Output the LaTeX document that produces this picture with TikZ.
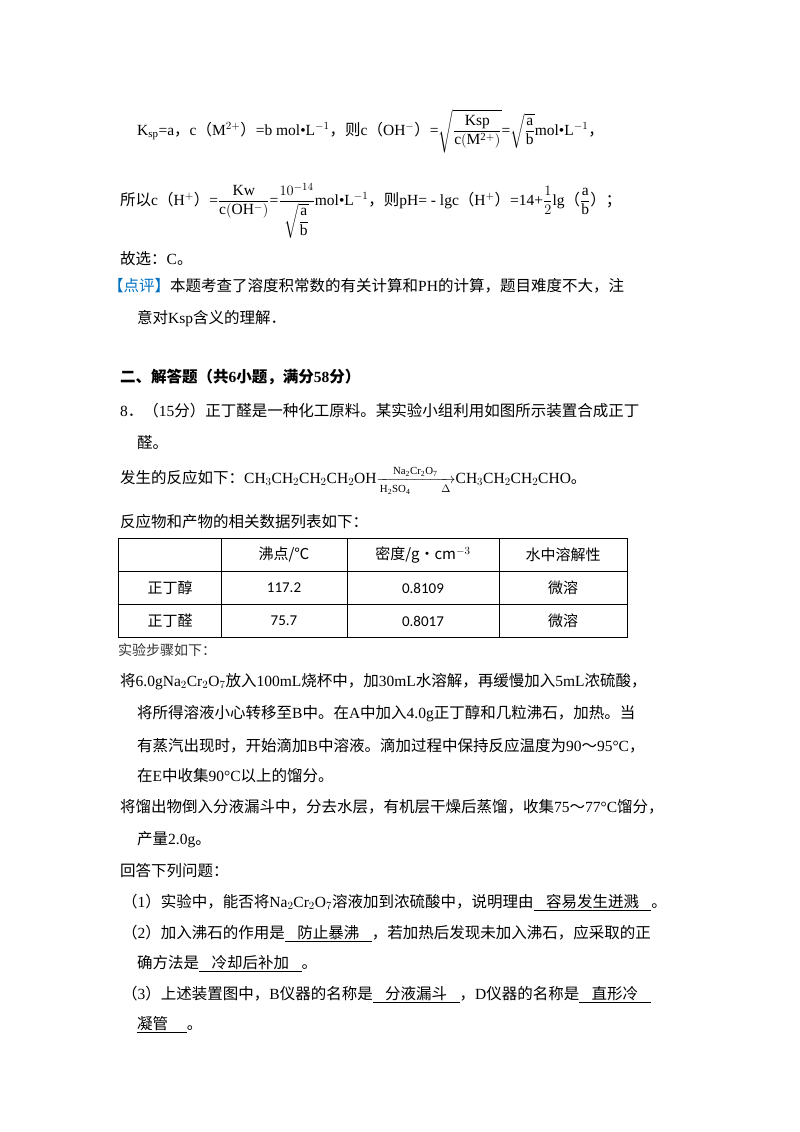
\documentclass[tikz,border=0pt]{standalone}
\usepackage{amsmath}
\usepackage{fontspec}
\setmainfont{Liberation Serif}
\newfontfamily\cjk{Noto Sans CJK SC}
\newfontfamily\carfont{Carlito}
\definecolor{dpblue}{RGB}{0,112,192}
\newcommand{\ans}[1]{\underline{\hspace{0.8em}#1\hspace{0.8em}}}
\newcommand{\cp}[1]{{\cjk #1}}
\begin{document}
\begin{tikzpicture}[x=1pt,y=-1pt,
  t/.style={anchor=base west,inner sep=0pt,font=\fontsize{15.5}{18}\selectfont\cjk},
  cell/.style={inner sep=0pt,font=\fontsize{15}{18}\selectfont\cjk},
  num/.style={inner sep=0pt,font=\fontsize{15}{18}\selectfont\carfont}]
\useasboundingbox (0,0) rectangle (800,1132);
\node[t] (l1) at (137,135) {\rmfamily K$_{\mathrm{sp}}$=a\cp{，}c\cp{（}M$^{2+}$\cp{）}=b mol•L$^{-1}$\cp{，则}c\cp{（}OH$^{-}$\cp{）}=$\sqrt{\dfrac{\mathrm{Ksp}}{\mathrm{c(M^{2+})}}}$=$\sqrt{\dfrac{\mathrm{a}}{\mathrm{b}}}$mol•L$^{-1}$\cp{，}};
\node[t] (l2) at (120,205) {所以\rmfamily c\cp{（}H$^{+}$\cp{）}=$\dfrac{\mathrm{Kw}}{\mathrm{c(OH^{-})}}$=$\dfrac{10^{-14}}{\sqrt{\dfrac{\mathrm{a}}{\mathrm{b}}}}$mol•L$^{-1}$\cp{，则}pH= - lgc\cp{（}H$^{+}$\cp{）}=14+$\dfrac12$lg\cp{（}$\dfrac{\mathrm a}{\mathrm b}$\cp{）；}};
\node[t] (l3) at (120,264) {故选：\rmfamily C\cjk 。};
\node[t] (l4) at (108,291) {\textcolor{dpblue}{【点评】}本题考查了溶度积常数的有关计算和\rmfamily PH\cjk 的计算，题目难度不大，注};
\node[t] (l5) at (137,323) {意对\rmfamily Ksp\cjk 含义的理解．};
\node[t] (h1) at (120,382) {\bfseries 二、解答题（共\rmfamily\bfseries 6\cjk\bfseries 小题，满分\rmfamily\bfseries 58\cjk\bfseries 分）};
\node[t] (q8) at (120,416) {\rmfamily 8\cjk ．（\rmfamily 15\cjk 分）正丁醛是一种化工原料。某实验小组利用如图所示装置合成正丁};
\node[t] (q8b) at (137,448) {醛。};
\node[t] (rx) at (120,483) {发生的反应如下：\rmfamily CH$_3$CH$_2$CH$_2$CH$_2$OH$\xrightarrow[\mathrm{H_2SO_4}\qquad\Delta]{\ \mathrm{Na_2Cr_2O_7}\ }$CH$_3$CH$_2$CH$_2$CHO\cjk 。};
\node[t] (tb) at (120,527) {反应物和产物的相关数据列表如下：};
\draw[line width=0.8pt] (118,538) rectangle (627,637);
\draw[line width=0.6pt] (118,571) -- (627,571) (118,604) -- (627,604)
  (221,538) -- (221,637) (347,538) -- (347,637) (499,538) -- (499,637);
\node[cell] (c12) at (284,555) {沸点/℃};
\node[cell] (c13) at (423,555) {密度/g•cm$^{-3}$};
\node[cell] (c14) at (563,555) {水中溶解性};
\node[cell] (c21) at (170,588) {正丁醇};
\node[num] (c22) at (284,588) {117.2};
\node[num] (c23) at (423,588) {0.8109};
\node[cell] (c24) at (563,588) {微溶};
\node[cell] (c31) at (170,621) {正丁醛};
\node[num] (c32) at (284,621) {75.7};
\node[num] (c33) at (423,621) {0.8017};
\node[cell] (c34) at (563,621) {微溶};
\node[t,font=\fontsize{14}{16}\selectfont\cjk,text=black!80] (st) at (118,655) {实验步骤如下：};
\node[t] (p1) at (120,686) {将\rmfamily 6.0gNa$_2$Cr$_2$O$_7$\cjk 放入\rmfamily 100mL\cjk 烧杯中，加\rmfamily 30mL\cjk 水溶解，再缓慢加入\rmfamily 5mL\cjk 浓硫酸，};
\node[t] (p2) at (137,718) {将所得溶液小心转移至\rmfamily B\cjk 中。在\rmfamily A\cjk 中加入\rmfamily 4.0g\cjk 正丁醇和几粒沸石，加热。当};
\node[t] (p3) at (137,751) {有蒸汽出现时，开始滴加\rmfamily B\cjk 中溶液。滴加过程中保持反应温度为\rmfamily 90\cjk ～\rmfamily 95°C\cjk ，};
\node[t] (p4) at (137,781) {在\rmfamily E\cjk 中收集\rmfamily 90°C\cjk 以上的馏分。};
\node[t] (p5) at (120,812) {将馏出物倒入分液漏斗中，分去水层，有机层干燥后蒸馏，收集\rmfamily 75\cjk ～\rmfamily 77°C\cjk 馏分，};
\node[t] (p6) at (137,844) {产量\rmfamily 2.0g\cjk 。};
\node[t] (p7) at (120,876) {回答下列问题：};
\node[t] (a1) at (122,907) {（\rmfamily 1\cjk ）实验中，能否将\rmfamily Na$_2$Cr$_2$O$_7$\cjk 溶液加到浓硫酸中，说明理由\ans{容易发生迸溅}。};
\node[t] (a2) at (122,938) {（\rmfamily 2\cjk ）加入沸石的作用是\ans{防止暴沸}，若加热后发现未加入沸石，应采取的正};
\node[t] (a2b) at (137,968) {确方法是\ans{冷却后补加}。};
\node[t] (a3) at (122,999) {（\rmfamily 3\cjk ）上述装置图中，\rmfamily B\cjk 仪器的名称是\ans{分液漏斗}，\rmfamily D\cjk 仪器的名称是\ans{直形冷}};
\node[t] (a3b) at (137,1029) {\underline{凝管\hspace{1.2em}}。};
\end{tikzpicture}
\end{document}
